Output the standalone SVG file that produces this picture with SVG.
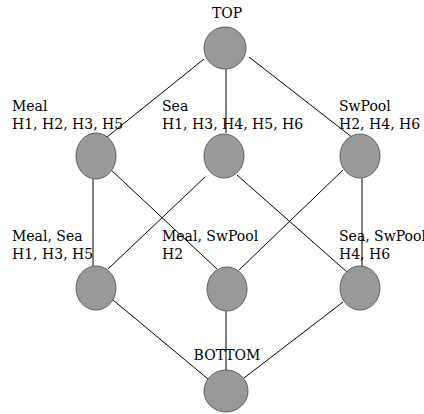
<svg xmlns="http://www.w3.org/2000/svg" width="424" height="414" viewBox="0 0 424 414">
<style>
.n{fill:#999999;stroke:#5e5e5e;stroke-width:1}
.e line{stroke:#000;stroke-width:1}
text{font-family:"DejaVu Serif","Liberation Serif",serif;font-size:14px;fill:#000}
</style>
<rect width="424" height="414" fill="#fff"/>
<g id="connectors" class="e">
<line x1="204" y1="59" x2="107" y2="137"/>
<line x1="226" y1="69" x2="226" y2="133"/>
<line x1="249" y1="57" x2="353" y2="138"/>
<line x1="93" y1="179" x2="93" y2="266"/>
<line x1="110" y1="169" x2="217" y2="269"/>
<line x1="205" y1="177" x2="108" y2="269"/>
<line x1="237" y1="175" x2="347" y2="272"/>
<line x1="343" y1="170" x2="239" y2="270"/>
<line x1="362" y1="178" x2="362" y2="266"/>
<line x1="113" y1="300" x2="208" y2="379"/>
<line x1="226" y1="311" x2="226" y2="371"/>
<line x1="343" y1="302" x2="244" y2="378"/>
</g>
<g id="top"><ellipse class="n" cx="225" cy="48" rx="21" ry="21"/><text x="227" y="18" text-anchor="middle">TOP</text></g>
<g id="meal"><ellipse class="n" cx="96" cy="156" rx="20" ry="23"/><text x="12" y="111">Meal</text><text x="12" y="129">H1, H2, H3, H5</text></g>
<g id="sea"><ellipse class="n" cx="224" cy="156" rx="20" ry="22"/><text x="162" y="111">Sea</text><text x="162" y="129">H1, H3, H4, H5, H6</text></g>
<g id="swpool"><ellipse class="n" cx="360" cy="156" rx="20" ry="22"/><text x="339" y="111">SwPool</text><text x="339" y="129">H2, H4, H6</text></g>
<g id="meal-sea"><ellipse class="n" cx="96" cy="288" rx="20" ry="22"/><text x="12" y="241">Meal, Sea</text><text x="12" y="259">H1, H3, H5</text></g>
<g id="meal-swpool"><ellipse class="n" cx="227" cy="289" rx="20" ry="22"/><text x="162" y="241">Meal, SwPool</text><text x="162" y="259">H2</text></g>
<g id="sea-swpool"><ellipse class="n" cx="360" cy="288" rx="20" ry="22"/><text x="339" y="241">Sea, SwPool</text><text x="339" y="259">H4, H6</text></g>
<g id="bottom"><ellipse class="n" cx="226" cy="391" rx="22" ry="21"/><text x="227" y="360" text-anchor="middle">BOTTOM</text></g>
</svg>
